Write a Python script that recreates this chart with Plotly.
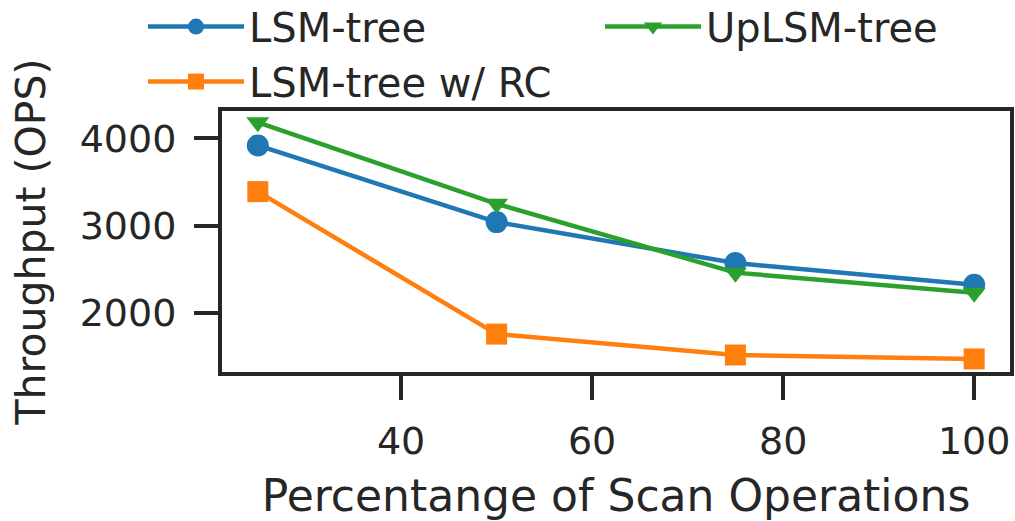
import plotly.graph_objects as go

scan_pct = [25, 50, 75, 100]
lsm_tree = [3920, 3040, 2570, 2320]
lsm_tree_rc = [3390, 1755, 1515, 1470]
uplsm_tree = [4185, 3250, 2460, 2230]

series = [
    ("LSM-tree", lsm_tree, "#1f77b4", "circle", 22, 1),
    ("LSM-tree w/ RC", lsm_tree_rc, "#ff7f0e", "square", 21, 3),
    ("UpLSM-tree", uplsm_tree, "#2ca02c", "triangle-down", 20, 2),
]

FONT = "DejaVu Sans"
AX = "#262626"

fig = go.Figure()
for name, vals, color, sym, msize, rank in series:
    fig.add_trace(go.Scatter(
        x=scan_pct, y=vals, name=name, mode="lines+markers",
        line=dict(color=color, width=4.5),
        marker=dict(symbol=sym, size=msize, color=color),
        legendrank=rank, cliponaxis=False,
    ))

fig.update_layout(
    width=1015, height=521,
    margin=dict(l=222, r=5, t=111, b=149, autoexpand=False),
    paper_bgcolor="white", plot_bgcolor="white",
    font=dict(family=FONT, color=AX),
    showlegend=True,
    legend=dict(
        orientation="h", xref="paper", yref="paper",
        x=-0.1003, y=1.448, xanchor="left", yanchor="top",
        font=dict(size=40, family=FONT, color=AX),
        entrywidth=346, entrywidthmode="pixels",
        itemwidth=96, bgcolor="rgba(0,0,0,0)", tracegroupgap=0,
    ),
)
fig.update_xaxes(
    range=[21.25, 103.75], tickvals=[40, 60, 80, 100],
    showline=True, linecolor=AX, linewidth=4, mirror=True,
    ticks="outside", ticklen=24, tickwidth=4, tickcolor=AX,
    tickfont=dict(size=38, family=FONT, color=AX), ticklabelstandoff=8,
    showgrid=False, zeroline=False,
    title=dict(text="Percentange of Scan Operations", font=dict(size=44, family=FONT, color=AX), standoff=20),
)
fig.update_yaxes(
    range=[1320, 4315], tickvals=[2000, 3000, 4000], tickformat="d",
    showline=True, linecolor=AX, linewidth=4, mirror=True,
    ticks="outside", ticklen=24, tickwidth=4, tickcolor=AX,
    tickfont=dict(size=38, family=FONT, color=AX), ticklabelstandoff=10,
    showgrid=False, zeroline=False,
    title=dict(text="Throughput (OPS)", font=dict(size=41, family=FONT, color=AX), standoff=22),
)

fig.write_html("out.html")
